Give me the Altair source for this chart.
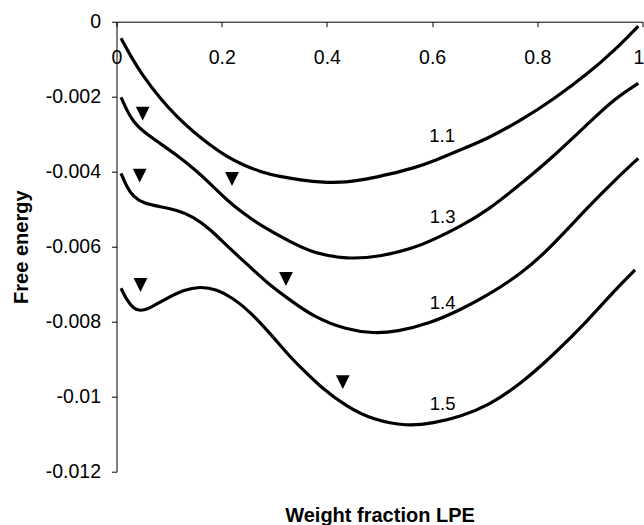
import altair as alt
import pandas as pd

# ---- data ----
series_names = ["1.1", "1.3", "1.4", "1.5"]

x_11 = [0.0086, 0.0257, 0.0510, 0.0827, 0.1144, 0.1460, 0.1778, 0.2095, 0.2411, 0.2728,
        0.3108, 0.3489, 0.3932, 0.4376, 0.4757, 0.5200, 0.5643, 0.6087, 0.6530, 0.7068,
        0.7703, 0.8337, 0.8970, 0.9477, 0.9920]
v_11 = [-0.000443, -0.000888, -0.001467, -0.002043, -0.002533, -0.002933, -0.003288, -0.003600,
        -0.003821, -0.004000, -0.004133, -0.004221, -0.004290, -0.004283, -0.004203, -0.004061,
        -0.003909, -0.003688, -0.003421, -0.003109, -0.002621, -0.002043, -0.001376, -0.000755,
        -0.000115]

x_13 = [0.0086, 0.0194, 0.0319, 0.0510, 0.0827, 0.1144, 0.1460, 0.1778, 0.2095, 0.2411,
        0.2728, 0.3298, 0.3741, 0.4376, 0.5010, 0.5643, 0.6017, 0.6530, 0.7068, 0.7703,
        0.8337, 0.8970, 0.9477, 0.9920]
v_13 = [-0.002016, -0.002355, -0.002667, -0.002933, -0.003243, -0.003555, -0.003909, -0.004309,
        -0.004755, -0.005109, -0.005421, -0.005867, -0.006168, -0.006336, -0.006267, -0.006043,
        -0.005821, -0.005467, -0.005021, -0.004309, -0.003555, -0.002709, -0.002043, -0.001643]

x_14 = [0.0086, 0.0194, 0.0319, 0.0510, 0.0827, 0.1144, 0.1460, 0.1778, 0.2095, 0.2411,
        0.2856, 0.3298, 0.3741, 0.4376, 0.4882, 0.5327, 0.5960, 0.6530, 0.7068, 0.7703,
        0.8209, 0.8970, 0.9477, 0.9920]
v_14 = [-0.004043, -0.004400, -0.004667, -0.004843, -0.004933, -0.005021, -0.005200, -0.005530,
        -0.005973, -0.006373, -0.006960, -0.007421, -0.007867, -0.008221, -0.008309, -0.008267,
        -0.008043, -0.007688, -0.007288, -0.006709, -0.006088, -0.004933, -0.004221, -0.003643]

x_15 = [0.0086, 0.0194, 0.0319, 0.0447, 0.0637, 0.0954, 0.1270, 0.1587, 0.1905, 0.2221,
        0.2538, 0.2918, 0.3298, 0.3489, 0.3869, 0.4376, 0.4882, 0.5517, 0.6023, 0.6530,
        0.7068, 0.7703, 0.8337, 0.8970, 0.9477, 0.9857]
v_15 = [-0.007109, -0.007421, -0.007643, -0.007720, -0.007643, -0.007376, -0.007155, -0.007060,
        -0.007136, -0.007376, -0.007733, -0.008309, -0.008933, -0.009200, -0.009733, -0.010267,
        -0.010621, -0.010790, -0.010709, -0.010533, -0.010240, -0.009643, -0.008843, -0.007955,
        -0.007155, -0.006621]

# triangle markers
tri_x = [0.0498, 0.0441, 0.2196, 0.0456, 0.3222, 0.4302]
tri_v = [-0.002453, -0.004107, -0.004195, -0.007021, -0.006861, -0.009613]

# curve labels
label_text = ["1.1", "1.3", "1.4", "1.5"]
label_x = [0.619, 0.620, 0.620, 0.620]
label_v = [-0.00322, -0.00538, -0.007665, -0.01036]

x_ticks = [0, 0.2, 0.4, 0.6, 0.8, 1]
y_ticks = [0, -0.002, -0.004, -0.006, -0.008, -0.01, -0.012]

# ---- tables ----
rows = []
for name, xs, vs in zip(series_names, [x_11, x_13, x_14, x_15], [v_11, v_13, v_14, v_15]):
    for i, (a, b) in enumerate(zip(xs, vs)):
        rows.append({"series": name, "order": i, "x": a, "v": b})
lines_df = pd.DataFrame(rows)
tri_df = pd.DataFrame({"x": tri_x, "v": tri_v})
lab_df = pd.DataFrame({"x": label_x, "v": label_v, "text": label_text})

FONT = "Liberation Sans"
W, H = 526, 450

x_enc = alt.X(
    "x:Q",
    scale=alt.Scale(domain=[0, 1], nice=False, zero=False),
    axis=alt.Axis(
        orient="bottom", offset=-H, values=x_ticks, format="~g",
        labelFlush=False, labelOverlap=False, tickSize=5, labelPadding=21.6,
        labelOffset={"condition": {"test": "datum.value == 1", "value": -4}, "value": 0},
        labelFontSize=19.5, labelFont=FONT, labelColor="black",
        domainColor="black", tickColor="black", grid=False,
        title="Weight fraction LPE", titleFont=FONT, titleFontSize=20,
        titleFontWeight="bold", titleColor="black", titleX=W / 2, titleY=500,
        titleBaseline="alphabetic", titleAlign="center",
    ),
)
y_enc = alt.Y(
    "v:Q",
    scale=alt.Scale(domain=[-0.012, 0], nice=False, zero=False),
    axis=alt.Axis(
        values=y_ticks,
        labelExpr="datum.value == 0 ? '0' : '-' + format(abs(datum.value), '~g')",
        labelOverlap=False, tickSize=5, labelPadding=11,
        labelFontSize=19.5, labelFont=FONT, labelColor="black",
        domainColor="black", tickColor="black", grid=False,
        title="Free energy", titleFont=FONT, titleFontSize=20,
        titleFontWeight="bold", titleColor="black", titleAngle=270,
        titleX=-89.5, titleY=H / 2, titleBaseline="alphabetic", titleAlign="center",
    ),
)

lines = alt.Chart(lines_df).mark_line(
    color="black", strokeWidth=3.2, interpolate="basis"
).encode(x=x_enc, y=y_enc, detail="series:N", order="order:Q")

tris = alt.Chart(tri_df).mark_point(
    shape="M-1,-1L1,-1L0,1Z", filled=True, color="black", opacity=1, size=190, strokeWidth=0
).encode(x=x_enc, y=y_enc)

labels = alt.Chart(lab_df).mark_text(
    font=FONT, fontSize=18.5, color="black", align="center", baseline="alphabetic"
).encode(x=x_enc, y=y_enc, text="text:N")

chart = alt.layer(lines, tris, labels).properties(
    width=W, height=H,
    autosize=alt.AutoSizeParams(type="none"),
    padding={"left": 116.5, "top": 21.7, "right": 1.5, "bottom": 53.3},
    background="white",
).configure_view(strokeWidth=0)

chart.save("out.html", embed_options={"renderer": "svg", "actions": False})
